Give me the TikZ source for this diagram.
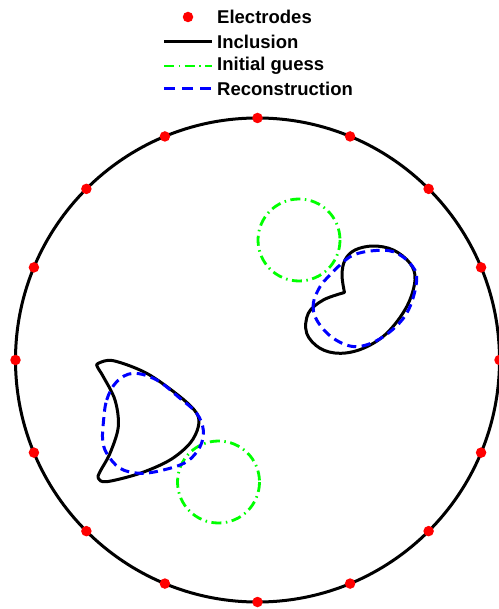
\documentclass[tikz,border=0pt]{standalone}
\usepackage{fontspec}
\setmainfont{Liberation Sans}
\usepackage{xcolor}
\definecolor{elecred}{HTML}{FF0000}
\definecolor{guessgreen}{HTML}{00FF00}
\definecolor{recblue}{HTML}{0000FF}

\begin{document}
\begin{tikzpicture}[x=1pt, y=-1pt,
  incl/.style={draw=black, line width=3pt, line join=round},
  guess/.style={draw=guessgreen, line width=2.8pt, dash pattern=on 10pt off 4.5pt on 1.5pt off 4.5pt},
  recon/.style={draw=recblue, line width=3pt, dash pattern=on 9pt off 5.5pt},
  elec/.style={circle, fill=elecred, inner sep=0pt, minimum size=10.5pt},
  lgd/.style={anchor=west, inner sep=0pt, font=\fontsize{18.5}{22}\selectfont\bfseries}]
  \useasboundingbox (0,0) rectangle (498,609);
  % legend
  \node[lgd] (lgE) at (217,17) {Electrodes};
  \node[lgd] (lgI) at (217,42) {Inclusion};
  \node[lgd] (lgG) at (217,66) {Initial guess};
  \node[lgd] (lgR) at (217,89) {Reconstruction};
  \node[elec] (lgdot) at ([xshift=-29pt]lgE.west) {};
  \draw[incl] ([xshift=-53pt]lgI.west) -- ([xshift=-5pt]lgI.west);
  \draw[guess] ([xshift=-53pt]lgG.west) -- ([xshift=-5pt]lgG.west);
  \draw[recon, dash pattern=on 11pt off 7pt] ([xshift=-53pt]lgR.west) -- ([xshift=-5pt]lgR.west);
  % domain and electrodes
  \coordinate (ctr) at (257.5,360);
  \draw[incl] (ctr) circle[radius=242];
  \foreach \i in {0,...,15}
    \node[elec] (e\i) at ([shift={(\i*22.5:242)}]ctr) {};
  % initial guesses
  \draw[guess] (299,240) circle[radius=41];
  \draw[guess] (218.5,482) circle[radius=41];
  % kidney inclusion
  \draw[incl] plot[smooth, tension=0.6] coordinates {
    (344.5,292.5) (323.3,300) (308.3,313.3) (306.7,333.3) (320,348.3) (340,353.3)
    (363.3,348.3) (386.7,333.3) (406.7,306.7) (415,280) (410,263.3) (393.3,250)
    (373.3,246) (355,250) (345,260) (342,275) (344.5,292.5)} -- cycle;
  \draw[recon] plot[smooth cycle, tension=0.6] coordinates {
    (320,286.7) (313.3,303.3) (316.7,320) (333.3,338.3) (356.7,346.7) (383.3,336.7)
    (406.7,313.3) (416.7,280) (410,263.3) (393.3,251.7) (373.3,250.7) (353.3,255)
    (340,265) (328.3,276.7)};
  % crescent inclusion
  \draw[incl] plot[smooth cycle, tension=0.55] coordinates {
    (98.3,363.3) (113.3,360.7) (146.7,373.3) (180,396.7) (196.7,413.3) (198.3,426.7)
    (190,443.3) (170,460) (140,473.3) (106.7,481.7) (98.3,478.3) (100,471.7)
    (110,453.3) (118.3,426.7) (115,400) (103.3,376.7) (97.3,366.7)};
  \draw[recon] plot[smooth cycle, tension=0.6] coordinates {
    (103.3,423.3) (106.7,400) (116.7,381.7) (133.3,373.3) (156.7,380) (180,398.3)
    (196.7,413.3) (203.3,430) (200,446.7) (186.7,461.7) (163.3,470) (140,473.3)
    (120,468.3) (106.7,453.3) (102.7,440)};
\end{tikzpicture}
\end{document}
